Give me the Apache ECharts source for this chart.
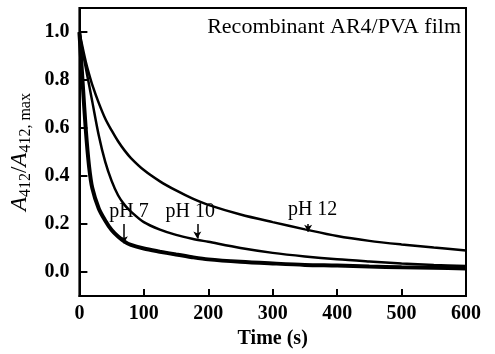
<!DOCTYPE html>
<html>
<head>
<meta charset="utf-8">
<script src="https://cdn.jsdelivr.net/npm/echarts@6/dist/echarts.min.js"></script>
<style>
  html, body { margin: 0; padding: 0; background: #fff; }
  #chart { width: 495px; height: 354px; }
</style>
</head>
<body>
<div id="chart"></div>
<script>
// time points (s)
var times = [0, 5, 10, 15, 20, 30, 40, 50, 60, 70, 80, 100, 125, 150, 175, 200, 250, 300, 350, 400, 450, 500, 550, 600]
// A412 / A412,max
var ph7 = [1.0, 0.79, 0.59, 0.44, 0.35, 0.265, 0.215, 0.175, 0.148, 0.127, 0.113, 0.098, 0.085, 0.073, 0.062, 0.053, 0.043, 0.036, 0.03, 0.027, 0.023, 0.02, 0.018, 0.015]
var ph10 = [1.0, 0.92, 0.85, 0.78, 0.71, 0.57, 0.46, 0.38, 0.32, 0.28, 0.252, 0.208, 0.177, 0.155, 0.139, 0.126, 0.1, 0.08, 0.065, 0.053, 0.044, 0.036, 0.03, 0.025]
var ph12 = [1.0, 0.935, 0.875, 0.825, 0.78, 0.705, 0.64, 0.59, 0.545, 0.507, 0.475, 0.425, 0.378, 0.34, 0.307, 0.28, 0.24, 0.208, 0.178, 0.15, 0.13, 0.115, 0.102, 0.09]
var yTicks = [0, 0.2, 0.4, 0.6, 0.8, 1.0]

// annotations
var noteText = ['pH 7', 'pH 10', 'pH 12']
var noteX = [77, 172, 362]
var noteY = [0.25, 0.25, 0.259]
var arrowX = [69, 183, 355]
var arrowTop = [0.20, 0.20, 0.20]
var arrowTip = [0.12, 0.14, 0.168]

var serif = 'Liberation Serif'

function pairs(ys) {
  return times.map(function (t, i) { return [t, ys[i]] })
}

function arrow(i) {
  return {
    silent: true,
    symbol: ['none', 'arrow'],
    symbolSize: [6, 7],
    label: { show: false },
    lineStyle: { color: '#000', width: 1.5, type: 'solid' },
    data: [[{ coord: [arrowX[i], arrowTop[i]] }, { coord: [arrowX[i], arrowTip[i]] }]]
  }
}

var chart = echarts.init(document.getElementById('chart'))
chart.setOption({
  animation: false,
  backgroundColor: '#fff',
  title: {
    text: 'Recombinant AR4/PVA film',
    right: 29,
    top: 11,
    textStyle: { fontFamily: serif, fontSize: 22, fontWeight: 'normal', color: '#000' }
  },
  grid: { left: 78, right: 29, top: 8, bottom: 54, show: true, borderColor: '#000', borderWidth: 2 },
  xAxis: {
    type: 'value',
    min: 0,
    max: 600,
    interval: 100,
    name: 'Time (s)',
    nameLocation: 'middle',
    nameGap: 31,
    nameTextStyle: { fontFamily: serif, fontSize: 20, fontWeight: 'bold', color: '#000' },
    axisLine: { onZero: false, lineStyle: { color: '#000', width: 2 } },
    axisTick: { inside: true, length: 7, lineStyle: { color: '#000', width: 2 } },
    axisLabel: { margin: 8, fontFamily: serif, fontSize: 20, fontWeight: 'bold', color: '#000' },
    splitLine: { show: false }
  },
  yAxis: {
    type: 'value',
    min: -0.1,
    max: 1.1,
    name: '{i|A}{s|412}{n|/}{i|A}{s|412, max}',
    nameLocation: 'middle',
    nameGap: 42,
    nameRotate: 90,
    nameTextStyle: {
      color: '#000',
      rich: {
        i: { fontFamily: serif, fontStyle: 'italic', fontSize: 23, color: '#000', lineHeight: 28 },
        n: { fontFamily: serif, fontSize: 23, color: '#000', lineHeight: 28 },
        s: { fontFamily: serif, fontSize: 16, color: '#000', verticalAlign: 'bottom', lineHeight: 16 }
      }
    },
    axisLine: { onZero: false, lineStyle: { color: '#000', width: 2 } },
    axisTick: { inside: true, length: 8, customValues: yTicks, lineStyle: { color: '#000', width: 2 } },
    axisLabel: {
      margin: 10,
      customValues: yTicks,
      fontFamily: serif, fontSize: 20, fontWeight: 'bold', color: '#000',
      formatter: function (v) { return v.toFixed(1) }
    },
    splitLine: { show: false }
  },
  series: [
    {
      name: 'pH 7', type: 'line', data: pairs(ph7), smooth: 0.3, showSymbol: false,
      lineStyle: { color: '#000', width: 4 }, markLine: arrow(0)
    },
    {
      name: 'pH 10', type: 'line', data: pairs(ph10), smooth: 0.3, showSymbol: false,
      lineStyle: { color: '#000', width: 2.5 }, markLine: arrow(1)
    },
    {
      name: 'pH 12', type: 'line', data: pairs(ph12), smooth: 0.3, showSymbol: false,
      lineStyle: { color: '#000', width: 2.5 }, markLine: arrow(2)
    },
    {
      name: 'notes', type: 'scatter', silent: true, symbolSize: 1,
      itemStyle: { color: 'rgba(0,0,0,0)', opacity: 1 },
      data: noteText.map(function (s, i) { return { value: [noteX[i], noteY[i]], name: s } }),
      label: {
        show: true, position: 'inside', formatter: '{b}',
        fontFamily: serif, fontSize: 20, color: '#000', textBorderWidth: 0
      }
    }
  ]
})
</script>
</body>
</html>
